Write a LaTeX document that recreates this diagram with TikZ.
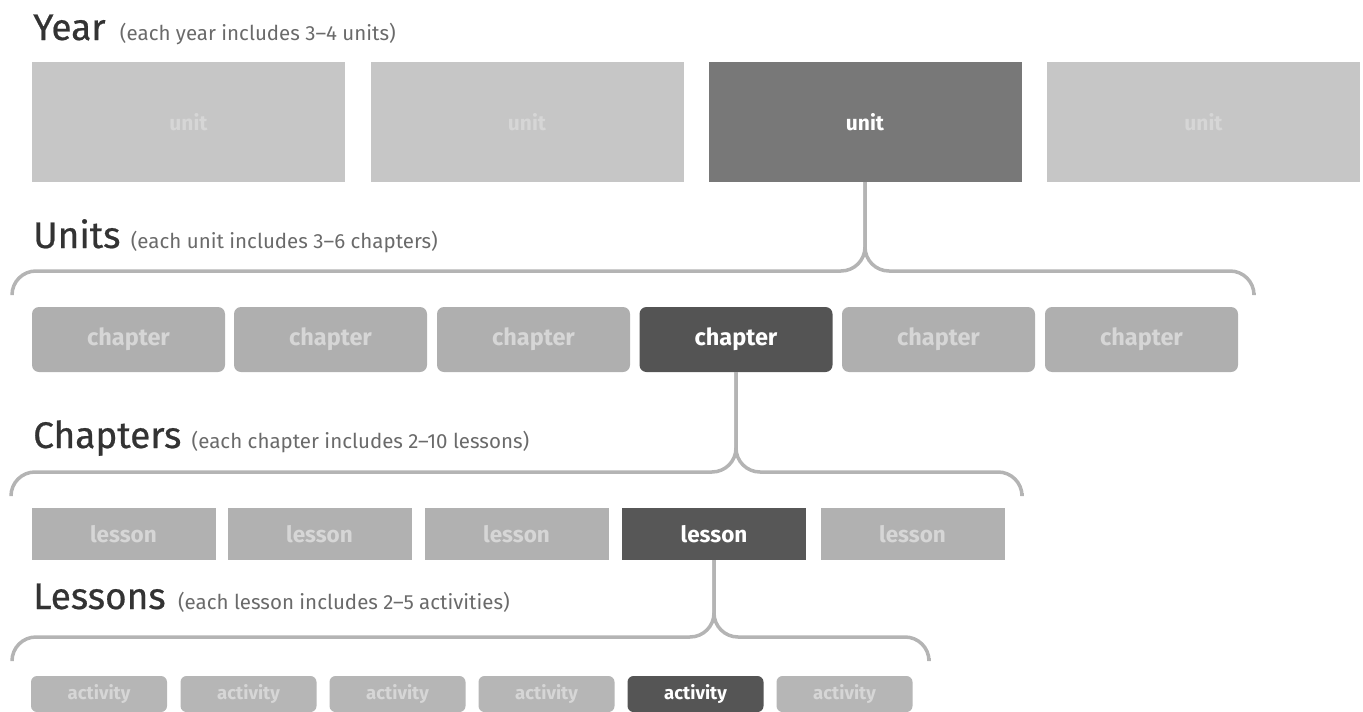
\documentclass[tikz,border=0pt]{standalone}
\usepackage{fontspec}
\setmainfont{Fira Sans}
\newfontfamily\headfont{Fira Sans}[FakeBold=0.6]
\definecolor{headc}{HTML}{333333}
\definecolor{subc}{HTML}{6A6A6A}
\definecolor{unitL}{HTML}{C6C6C6}
\definecolor{unitD}{HTML}{787878}
\definecolor{chapL}{HTML}{AFAFAF}
\definecolor{chapD}{HTML}{545454}
\definecolor{lesL}{HTML}{B1B1B1}
\definecolor{lesD}{HTML}{575757}
\definecolor{actL}{HTML}{B6B6B6}
\definecolor{actD}{HTML}{555555}
\definecolor{txtL}{HTML}{D6D6D6}
\definecolor{lineC}{HTML}{B4B4B4}
\begin{document}
\begin{tikzpicture}[x=1pt,y=-1pt,
  head/.style={anchor=base west,inner sep=0pt,text=headc,font=\headfont\fontsize{37}{37}\selectfont},
  sub/.style={anchor=base west,inner sep=0pt,text=subc,font=\fontsize{20.5}{20.5}\selectfont},
  basebox/.style={inner sep=0pt,draw=none},
  unitbox/.style={basebox,minimum width=313pt,minimum height=120pt,fill=unitL,text=txtL,font=\bfseries\fontsize{21}{21}\selectfont},
  chapbox/.style={basebox,minimum width=193pt,minimum height=65pt,rounded corners=7pt,fill=chapL,text=txtL,font=\bfseries\fontsize{23.5}{23.5}\selectfont},
  lesbox/.style={basebox,minimum width=184pt,minimum height=52pt,fill=lesL,text=txtL,font=\bfseries\fontsize{22.5}{22.5}\selectfont},
  actbox/.style={basebox,minimum width=136pt,minimum height=36pt,rounded corners=6pt,fill=actL,text=txtL,font=\bfseries\fontsize{18.5}{18.5}\selectfont},
  sel/.style={text=white},
  conn/.style={draw=lineC,line width=3.5pt,rounded corners=24pt}
]
\useasboundingbox (0,0) rectangle (1363,712);

% Year
\node[head] (hY) at (33,40) {Year};
\node[sub] (sY) at ([xshift=14pt]hY.base east) {(each year includes 3–4 units)};
\node[unitbox] (u1) at (188.5,122) {unit};
\node[unitbox] (u2) at (527,122) {unit};
\node[unitbox,fill=unitD,sel] (u3) at (865,122) {unit};
\node[unitbox] (u4) at (1203.5,122) {unit};

% Units
\node[head] (hU) at (33,248) {Units};
\node[sub] (sU) at ([xshift=10pt]hU.base east) {(each unit includes 3–6 chapters)};
\coordinate (uL) at (12,293);
\coordinate (uR) at (1254,293);
\coordinate (uy) at (0,271);
\draw[conn] (u3.south) |- (uL |- uy) -- (uL);
\draw[conn] (u3.south) |- (uR |- uy) -- (uR);
\node[chapbox] (c1) at (128.5,339.5) {chapter};
\node[chapbox] (c2) at (330.5,339.5) {chapter};
\node[chapbox] (c3) at (533.5,339.5) {chapter};
\node[chapbox,fill=chapD,sel] (c4) at (736,339.5) {chapter};
\node[chapbox] (c5) at (938.5,339.5) {chapter};
\node[chapbox] (c6) at (1141.5,339.5) {chapter};

% Chapters
\node[head] (hC) at (33,448) {Chapters};
\node[sub] (sC) at ([xshift=10pt]hC.base east) {(each chapter includes 2–10 lessons)};
\coordinate (cL) at (11,493);
\coordinate (cR) at (1022,493);
\coordinate (cy) at (0,472);
\draw[conn] (c4.south) |- (cL |- cy) -- (cL);
\draw[conn] (c4.south) |- (cR |- cy) -- (cR);
\node[lesbox] (l1) at (123.5,534) {lesson};
\node[lesbox] (l2) at (319.5,534) {lesson};
\node[lesbox] (l3) at (516.5,534) {lesson};
\node[lesbox,fill=lesD,sel] (l4) at (714,534) {lesson};
\node[lesbox] (l5) at (912.5,534) {lesson};

% Lessons
\node[head] (hL) at (33,609) {Lessons};
\node[sub] (sL) at ([xshift=12pt]hL.base east) {(each lesson includes 2–5 activities)};
\coordinate (lL) at (12,658);
\coordinate (lR) at (929,658);
\coordinate (ly) at (0,637);
\draw[conn] (l4.south) |- (lL |- ly) -- (lL);
\draw[conn] (l4.south) |- (lR |- ly) -- (lR);
\node[actbox] (a1) at (99,694) {activity};
\node[actbox] (a2) at (248.5,694) {activity};
\node[actbox] (a3) at (397.5,694) {activity};
\node[actbox] (a4) at (546.5,694) {activity};
\node[actbox,fill=actD,sel] (a5) at (695.5,694) {activity};
\node[actbox] (a6) at (844.5,694) {activity};
\end{tikzpicture}
\end{document}
